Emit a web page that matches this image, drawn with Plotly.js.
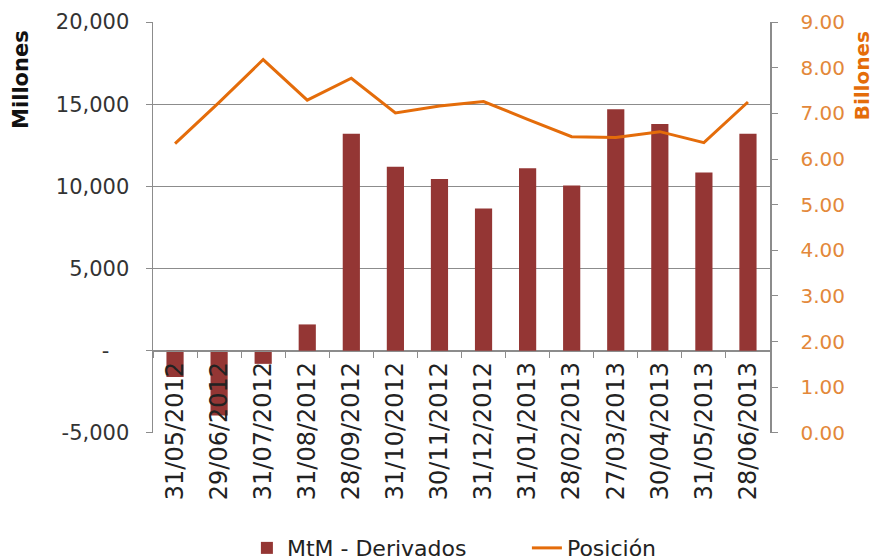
<!DOCTYPE html>
<html>
<head>
<meta charset="utf-8">
<script src="https://cdn.plot.ly/plotly-3.0.1.min.js"></script>
<style>html,body{margin:0;padding:0;background:#fff;}#chart{width:876px;height:560px;}</style>
</head>
<body>
<div id="chart"></div>
<script>
const categories = ["31/05/2012","29/06/2012","31/07/2012","31/08/2012","28/09/2012","31/10/2012","30/11/2012","31/12/2012","31/01/2013","28/02/2013","27/03/2013","30/04/2013","31/05/2013","28/06/2013"];
const mtmDerivados = [-1600,-3950,-800,1600,13200,11200,10450,8650,11100,10050,14700,13800,10850,13200];
const posicion = [6.34,7.24,8.18,7.29,7.77,7.01,7.16,7.26,6.87,6.49,6.47,6.60,6.36,7.25];
const leftTickVals = [-5000,0,5000,10000,15000,20000];
const leftTickText = ["-5,000","-\u00a0\u00a0\u00a0","5,000","10,000","15,000","20,000"];

const FONT = "DejaVu Sans, Verdana, sans-serif";
const BAR = "#943634";
const ORANGE = "#E46C0A";
const ORANGE_TXT = "#E3883A";

const traces = [
  {type:"bar", name:"MtM - Derivados", x:categories, y:mtmDerivados, marker:{color:BAR}, yaxis:"y"},
  {type:"scatter", mode:"lines", name:"Posición", x:categories, y:posicion, line:{color:ORANGE, width:3}, yaxis:"y2"}
];

const layout = {
  width:876, height:560,
  margin:{l:153, r:106, t:22, b:127, autoexpand:false},
  paper_bgcolor:"#fff", plot_bgcolor:"#fff",
  font:{family:FONT, size:20, color:"#333"},
  bargap:0.61,
  showlegend:true,
  legend:{orientation:"h", x:0.606, xanchor:"center", y:-0.28, yanchor:"middle",
          font:{family:FONT, size:22, color:"#222"}, entrywidth:235, tracegroupgap:0},
  xaxis:{type:"category", range:[-0.5,13.5], anchor:"free", position:0.2, automargin:false,
         showline:true, linecolor:"#8c8c8c", linewidth:1.5,
         ticks:"outside", tickson:"boundaries", ticklen:6, tickcolor:"#8c8c8c",
         tickangle:-90, tickfont:{family:FONT, size:24, color:"#222"}, dtick:1, tickmode:"linear",
         showgrid:false, zeroline:false, fixedrange:true},
  yaxis:{range:[-5008,20008], tickvals:leftTickVals, ticktext:leftTickText, automargin:false,
         showline:true, linecolor:"#8c8c8c", linewidth:1.5,
         ticks:"outside", ticklen:6, tickcolor:"#8c8c8c", ticklabelstandoff:12,
         showgrid:true, gridcolor:"#8c8c8c", gridwidth:1.2, zeroline:false,
         tickfont:{family:FONT, size:21, color:"#333"}},
  yaxis2:{range:[-0.0029,9.0029], dtick:1, tick0:0, tickformat:".2f", overlaying:"y", side:"right", automargin:false,
          showline:true, linecolor:"#8c8c8c", linewidth:1.5,
          ticks:"outside", ticklen:6, tickcolor:"#8c8c8c", ticklabelstandoff:19,
          showgrid:false, zeroline:false,
          tickfont:{family:FONT, size:20, color:ORANGE_TXT}},
  annotations:[
    {text:"<b>Millones</b>", xref:"paper", yref:"paper", x:-0.215, y:0.86, textangle:-90,
     showarrow:false, font:{family:FONT, size:21, color:"#111"}, xanchor:"center", yanchor:"middle"},
    {text:"<b>Billones</b>", xref:"paper", yref:"paper", x:1.149, y:0.87, textangle:-90,
     showarrow:false, font:{family:FONT, size:20, color:ORANGE}, xanchor:"center", yanchor:"middle"}
  ]
};

Plotly.newPlot("chart", traces, layout, {displayModeBar:false, staticPlot:true});
</script>
</body>
</html>
